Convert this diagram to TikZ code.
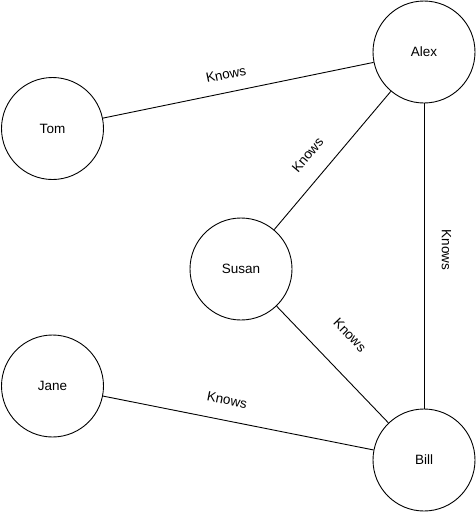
\documentclass[tikz,border=0pt]{standalone}
\usepackage{fontspec}
\setmainfont{Liberation Sans}
\begin{document}
\begin{tikzpicture}[x=1pt,y=-1pt,
  person/.style={circle,draw=black,line width=0.9pt,minimum size=102pt,inner sep=0pt,
    font=\fontsize{13.5}{16}\selectfont},
  rel/.style={draw=black,line width=0.9pt},
  knows/.style={font=\fontsize{13.5}{16}\selectfont,inner sep=0pt,anchor=south}]
\useasboundingbox (0,0) rectangle (476,512);

% people
\node[person] (tom)   at (52.5,128.5) {Tom};
\node[person] (alex)  at (424,52)     {Alex};
\node[person] (susan) at (241,269)    {Susan};
\node[person] (jane)  at (52.5,386)   {Jane};
\node[person] (bill)  at (424,460)    {Bill};

% relations, each labelled beside its line
\path[rel] (tom) -- node[knows,pos=0.468,sloped,outer sep=13.3pt] (k1) {Knows} (alex);
\path[rel] (susan) -- node[knows,pos=0.434,sloped,outer sep=17.8pt] (k2) {Knows} (alex);
\path[rel] (alex) -- node[knows,pos=0.480,rotate=-90,outer sep=17.8pt] (k3) {Knows} (bill);
\path[rel] (susan) -- node[knows,pos=0.443,sloped,outer sep=28.2pt] (k4) {Knows} (bill);
\path[rel] (jane) -- node[knows,pos=0.444,sloped,outer sep=15.5pt] (k5) {Knows} (bill);
\end{tikzpicture}
\end{document}
